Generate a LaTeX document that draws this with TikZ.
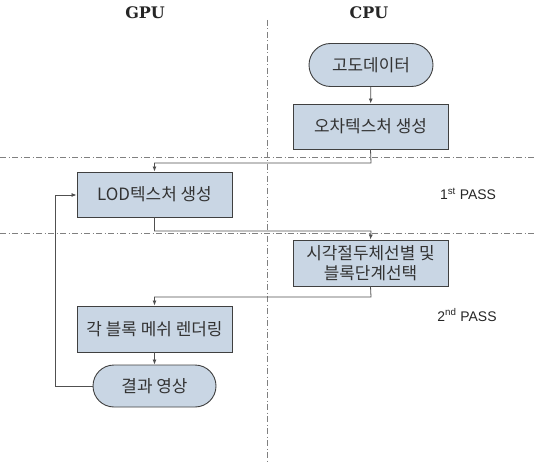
\documentclass[tikz,border=0pt]{standalone}
\usepackage{fontspec}
\setmainfont{Liberation Sans}
\newfontfamily\kr{Noto Sans CJK KR}
\newfontfamily\hdr{DejaVu Serif}
\usetikzlibrary{arrows.meta,shapes.misc}
\definecolor{boxfill}{HTML}{C9D6E4}
\definecolor{boxline}{HTML}{404040}
\definecolor{conn}{HTML}{505050}
\tikzset{
  procbox/.style={draw=boxline, fill=boxfill, line width=0.9bp, minimum width=155bp, minimum height=45bp, font=\kr\fontsize{17}{20}\selectfont, text=black!80, align=center, inner sep=0pt},
  termbox/.style={draw=boxline, fill=boxfill, line width=0.9bp, rounded rectangle, minimum width=124bp, minimum height=43bp, font=\kr\fontsize{17}{20}\selectfont, text=black!80, inner sep=0pt},
  flow/.style={draw=conn, line width=0.8bp, -{Latex[length=5bp,width=4bp]}},
  sepline/.style={draw=gray, line width=0.7bp, dash pattern=on 6bp off 2.5bp on 1bp off 2.5bp},
  hdrtext/.style={font=\hdr\bfseries\fontsize{16}{19}\selectfont, text=black!85},
  passtext/.style={font=\fontsize{14}{17}\selectfont, text=black!85}
}
\begin{document}
\begin{tikzpicture}[x=1bp,y=-1bp]
\useasboundingbox (0,0) rectangle (534,464);
% separators
\draw[sepline] (267,20) -- (267,464);
\draw[sepline] (0,157) -- (534,157);
\draw[sepline] (0,233) -- (534,233);
% headers
\node[hdrtext] (gpu) at (145,13) {GPU};
\node[hdrtext] (cpu) at (369,13) {CPU};
% nodes
\node[termbox] (data) at (371,65) {고도데이터};
\node[procbox] (err) at (370.5,126.5) {오차텍스처 생성};
\node[procbox] (lod) at (154.5,194.5) {LOD텍스처 생성};
\node[procbox, minimum height=46bp] (sel) at (370.5,263) {시각절두체선별 및\\블록단계선택};
\node[procbox, minimum height=46bp] (mesh) at (154.5,329) {각 블록 메쉬 렌더링};
\node[termbox, minimum width=123bp, minimum height=42bp] (res) at (154.5,386) {결과 영상};
% pass labels
\node[passtext] (p1) at (468,194) {1\textsuperscript{st} PASS};
\node[passtext] (p2) at (467,315) {2\textsuperscript{nd} PASS};
% connectors
\coordinate (c1) at (371,163);
\coordinate (c2) at (154.5,163);
\coordinate (c3) at (154.5,231);
\coordinate (c4) at (371,231);
\coordinate (c5) at (371,297);
\coordinate (c6) at (154.5,297);
\coordinate (c7) at (55,386);
\coordinate (c8) at (55,195);
\draw[flow] (data) -- (err);
\draw[flow] (err.south) -- (c1) -- (c2) -- (lod.north);
\draw[flow] (lod.south) -- (c3) -- (c4) -- (sel.north);
\draw[flow] (sel.south) -- (c5) -- (c6) -- (mesh.north);
\draw[flow] (mesh) -- (res);
\draw[flow] (res.west) -- (c7) -- (c8) -- (c8 -| lod.west);
\end{tikzpicture}
\end{document}
